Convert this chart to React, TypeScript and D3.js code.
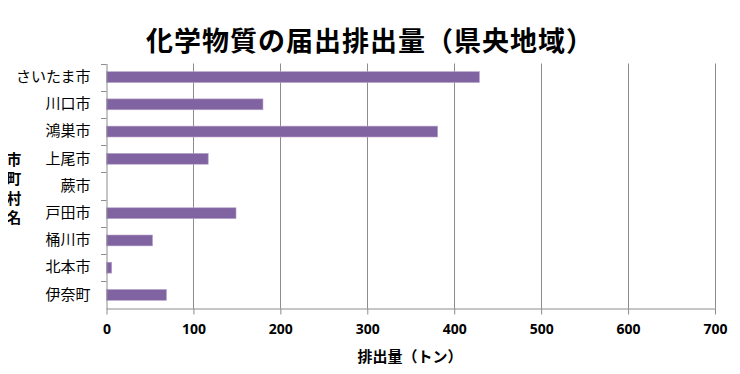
import React, { useEffect, useRef } from 'react'
import * as d3 from 'd3'

// 市町村名と排出量(トン)
const cities = ['さいたま市', '川口市', '鴻巣市', '上尾市', '蕨市', '戸田市', '桶川市', '北本市', '伊奈町']
const amounts = [429, 180, 381, 117, 0, 149, 53, 6, 69]
const xTicks = [0, 100, 200, 300, 400, 500, 600, 700]
const title = '化学物質の届出排出量（県央地域）'
const xTitle = '排出量（トン）'
const yTitle = ['市', '町', '村', '名']

const W = 740
const H = 374
const JP = '"Noto Sans CJK JP", sans-serif'

export default function App() {
  const ref = useRef<SVGSVGElement>(null)

  useEffect(() => {
    const svg = d3.select(ref.current)
    svg.selectAll('*').remove()

    const x = d3.scaleLinear().domain([0, 700]).range([106.5, 715])
    const y = d3.scaleBand().domain(cities).range([63.5, 308.5]).paddingInner(0.6).paddingOuter(0.3)
    const yb = d3.scaleBand().domain(cities).range([63.5, 308.5])

    svg.append('rect').attr('width', W).attr('height', H).attr('fill', '#fff')
    // 左端の枠線
    svg.append('line').attr('x1', 0.5).attr('x2', 0.5).attr('y1', 0).attr('y2', H)
      .attr('stroke', '#a6a6a6').attr('stroke-width', 2)

    // タイトル
    svg.append('text').text(title)
      .attr('x', 370).attr('y', 51)
      .attr('text-anchor', 'middle')
      .style('font-family', JP).style('font-weight', 700).style('font-size', '27px')
      .style('letter-spacing', '1px')

    // 縦グリッド
    svg.append('g').selectAll('line').data(xTicks.slice(1)).join('line')
      .attr('x1', d => Math.round(x(d)) + 0.5).attr('x2', d => Math.round(x(d)) + 0.5)
      .attr('y1', 63.5).attr('y2', 308.5)
      .attr('stroke', '#8c8c8c').attr('stroke-width', 1)

    // 棒
    svg.append('g').selectAll('rect').data(cities).join('rect')
      .attr('x', x(0))
      .attr('y', d => y(d)!)
      .attr('width', (d, i) => x(amounts[i]) - x(0))
      .attr('height', y.bandwidth())
      .attr('fill', '#8064a2')
      .attr('stroke', '#b7a6cc').attr('stroke-width', 0.6)

    // x軸
    const xAxis = svg.append('g').attr('transform', 'translate(0,308.5)')
      .call(d3.axisBottom(x).tickValues(xTicks).tickSize(6).tickSizeOuter(0).tickPadding(10))
    xAxis.select('.domain').attr('stroke', '#8c8c8c')
    xAxis.selectAll('.tick line').attr('stroke', '#8c8c8c')
    xAxis.selectAll('.tick text')
      .style('font-family', '"Noto Sans", sans-serif').style('font-weight', 700).style('font-size', '14px')
      .attr('fill', '#000')

    // y軸
    const yAxis = svg.append('g').attr('transform', 'translate(106.5,0)')
      .call(d3.axisLeft(yb).tickSize(0).tickPadding(16))
    yAxis.select('.domain').attr('stroke', '#8c8c8c')
    yAxis.selectAll('.tick text')
      .style('font-family', JP).style('font-size', '15px').attr('fill', '#000')
    // カテゴリ境界の目盛り
    svg.append('g').selectAll('line').data(cities).join('line')
      .attr('x1', 101).attr('x2', 106.5)
      .attr('y1', d => Math.round(yb(d)!) + 0.5).attr('y2', d => Math.round(yb(d)!) + 0.5)
      .attr('stroke', '#8c8c8c')

    // 軸ラベル
    svg.append('text').text(xTitle)
      .attr('x', 410).attr('y', 362).attr('text-anchor', 'middle')
      .style('font-family', JP).style('font-weight', 700).style('font-size', '15px')

    svg.append('g').selectAll('text').data(yTitle).join('text')
      .text(d => d)
      .attr('x', 14).attr('y', (d, i) => 165 + i * 19.3)
      .attr('text-anchor', 'middle')
      .style('font-family', JP).style('font-weight', 700).style('font-size', '14.5px')
  }, [])

  return (
    <div style={{ margin: -8 }}>
      <svg ref={ref} width={W} height={H} style={{ display: 'block' }} />
    </div>
  )
}
